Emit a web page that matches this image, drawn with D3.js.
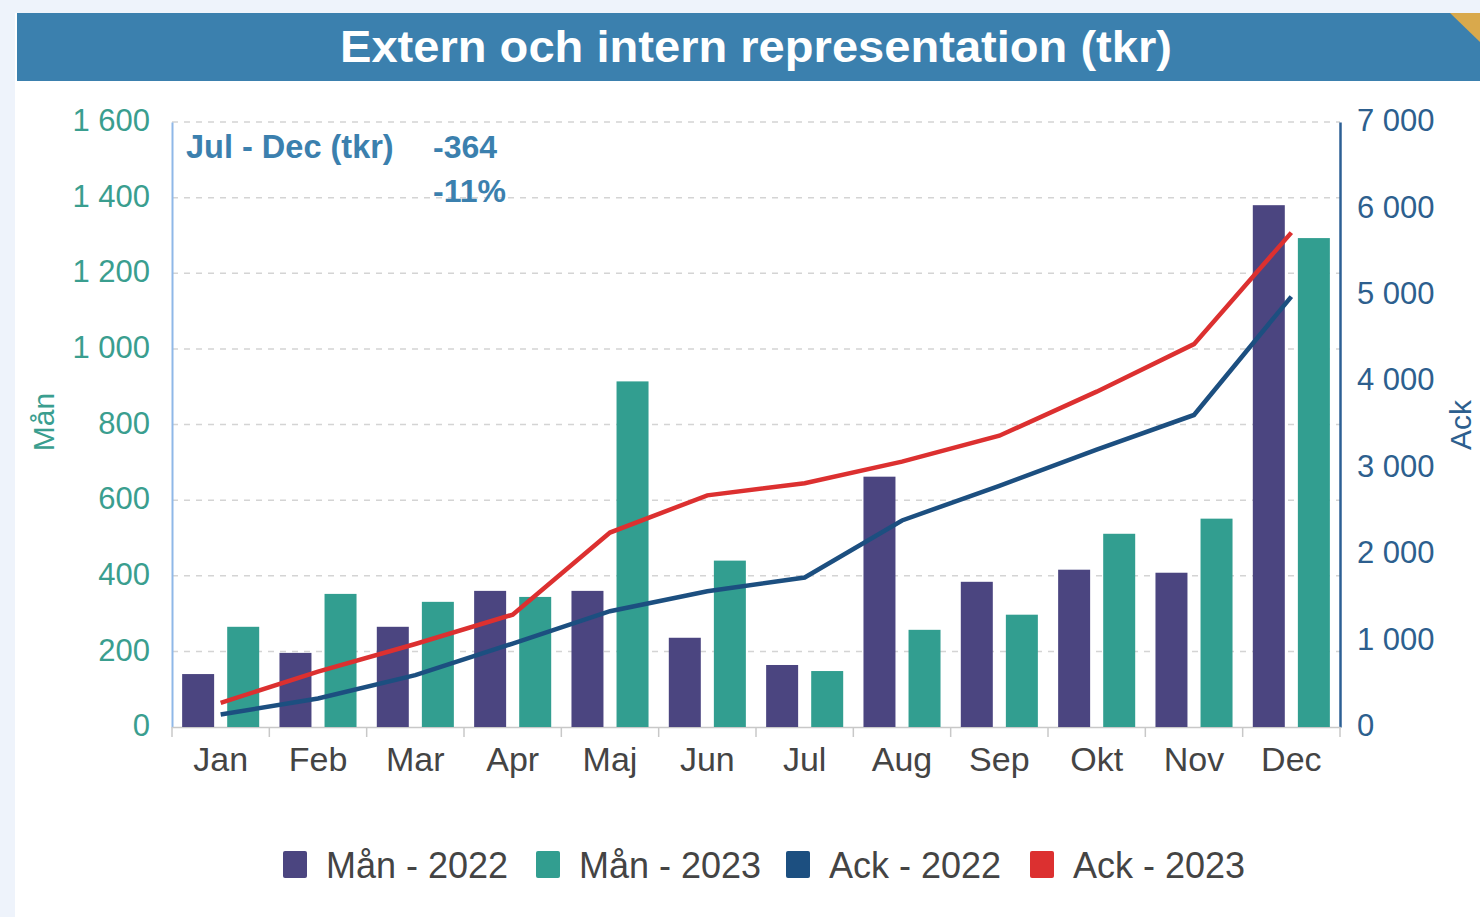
<!DOCTYPE html>
<html><head><meta charset="utf-8">
<script src="https://cdn.jsdelivr.net/npm/d3@7"></script>
<style>
html,body{margin:0;padding:0;background:#eef3fb;}
svg{display:block;font-family:"Liberation Sans",Arial,sans-serif;}
</style></head>
<body>
<svg id="c" width="1480" height="917"></svg>
<script>
const months = ["Jan","Feb","Mar","Apr","Maj","Jun","Jul","Aug","Sep","Okt","Nov","Dec"];
const man2022 = [140,196,265,360,360,236,164,662,384,416,408,1380];
const man2023 = [265,352,331,344,914,440,148,257,297,511,551,1293];
const ack2022 = [145,330,600,965,1340,1570,1730,2390,2790,3210,3610,4980];
const ack2023 = [280,640,960,1300,2250,2680,2820,3070,3370,3880,4430,5720];
const leftTicks = [0,200,400,600,800,1000,1200,1400,1600];
const rightTicks = [0,1000,2000,3000,4000,5000,6000,7000];
const legendItems = ["Mån - 2022","Mån - 2023","Ack - 2022","Ack - 2023"];
const title = "Extern och intern representation (tkr)";
const noteLabel = "Jul - Dec (tkr)";
const noteValues = ["-364","-11%"];

const colors = {m22:"#4b4580", m23:"#329e90", a22:"#1c4f80", a23:"#dc3030"};
const legendColors = [colors.m22, colors.m23, colors.a22, colors.a23];

const svg = d3.select("#c");
const fmt = v => d3.format(",")(v).replace(/,/g," ");

// panel
svg.append("rect").attr("x",15).attr("y",13).attr("width",1465).attr("height",904).attr("fill","#ffffff");
svg.append("rect").attr("x",17).attr("y",13).attr("width",1463).attr("height",68).attr("fill","#3b80ae");
svg.append("path").attr("d","M1450,13 L1480,13 L1480,42 Z").attr("fill","#d9a94c");
svg.append("text").attr("x",340).attr("y",62)
  .attr("textLength",832).attr("lengthAdjust","spacingAndGlyphs")
  .attr("fill","#ffffff").attr("font-weight","bold").attr("font-size",45).text(title);

const x0 = 172, x1 = 1340, yTop = 122, yBot = 727;
const x = d3.scaleBand().domain(months).range([x0,x1]).padding(0);
const xi = d3.scaleBand().domain([0,1]).range([0,x.bandwidth()]).paddingInner(0.29).paddingOuter(0.225);
const yL = d3.scaleLinear().domain([0,1600]).range([yBot,yTop]);
const yR = d3.scaleLinear().domain([0,7000]).range([yBot,yTop]);

// grid
svg.append("g").selectAll("line").data(leftTicks.filter(d=>d>0)).join("line")
  .attr("x1",x0).attr("x2",x1).attr("y1",d=>yL(d)).attr("y2",d=>yL(d))
  .attr("stroke","#d4d4d4").attr("stroke-width",1.5).attr("stroke-dasharray","6,6");

// left axis
const gL = svg.append("g").attr("transform",`translate(${x0},0)`)
  .call(d3.axisLeft(yL).tickValues(leftTicks).tickFormat(fmt).tickSize(0).tickPadding(22));
gL.select(".domain").attr("stroke","#8fb8e8").attr("stroke-width",2);
gL.selectAll("text").attr("fill","#3a9e8f").attr("font-size",31).attr("dy","0.28em").attr("font-family","Liberation Sans, Arial, sans-serif");

// right axis
const gR = svg.append("g").attr("transform",`translate(${x1},0)`)
  .call(d3.axisRight(yR).tickValues(rightTicks).tickFormat(fmt).tickSize(0).tickPadding(17));
gR.select(".domain").attr("stroke","#2c5f94").attr("stroke-width",2.5);
gR.selectAll("text").attr("fill","#2d5f8e").attr("font-size",31).attr("dy","0.28em").attr("font-family","Liberation Sans, Arial, sans-serif");

// bottom axis
const gB = svg.append("g").attr("transform",`translate(0,${yBot})`)
  .call(d3.axisBottom(x).tickSize(0).tickPadding(20));
gB.select(".domain").attr("stroke","#c8c8c8").attr("stroke-width",1.5);
gB.selectAll("text").attr("fill","#444").attr("font-size",34).attr("font-family","Liberation Sans, Arial, sans-serif");
svg.append("g").selectAll("line").data(months.concat(["__end"])).join("line")
  .attr("x1",(d,i)=>x0+i*x.step()).attr("x2",(d,i)=>x0+i*x.step())
  .attr("y1",yBot).attr("y2",yBot+10).attr("stroke","#c8c8c8").attr("stroke-width",1.5);

// axis titles
svg.append("text").attr("transform","translate(54,422) rotate(-90)").attr("text-anchor","middle")
  .attr("fill","#3a9e8f").attr("font-size",30).text("Mån");
svg.append("text").attr("transform","translate(1471,425) rotate(-90)").attr("text-anchor","middle")
  .attr("fill","#2d5f8e").attr("font-size",30).text("Ack");

// bars
const series = [man2022, man2023];
const barColors = [colors.m22, colors.m23];
series.forEach((vals,si)=>{
  svg.append("g").selectAll("rect").data(vals).join("rect")
    .attr("x",(d,i)=>x(months[i])+xi(si)).attr("width",xi.bandwidth())
    .attr("y",d=>yL(d)).attr("height",d=>yBot-yL(d)).attr("fill",barColors[si]);
});

// lines
const line = d3.line().x((d,i)=>x(months[i])+x.bandwidth()/2).y(d=>yR(d));
svg.append("path").datum(ack2022).attr("d",line).attr("fill","none").attr("stroke",colors.a22).attr("stroke-width",4.5);
svg.append("path").datum(ack2023).attr("d",line).attr("fill","none").attr("stroke",colors.a23).attr("stroke-width",4.5);

// annotation
svg.append("text").attr("x",186).attr("y",158).attr("fill","#3b80ae").attr("font-weight","bold").attr("font-size",32.5).text(noteLabel);
svg.append("text").attr("x",433).attr("y",158).attr("fill","#3b80ae").attr("font-weight","bold").attr("font-size",32).text(noteValues[0]);
svg.append("text").attr("x",433).attr("y",202).attr("fill","#3b80ae").attr("font-weight","bold").attr("font-size",32).text(noteValues[1]);

// legend
const legendX = [283,536,786,1030];
const lg = svg.append("g").selectAll("g").data(legendItems).join("g")
  .attr("transform",(d,i)=>`translate(${legendX[i]},851)`);
lg.append("rect").attr("width",24).attr("height",27).attr("rx",2).attr("fill",(d,i)=>legendColors[i]);
lg.append("text").attr("x",43).attr("y",27).attr("fill","#444").attr("font-size",36).text(d=>d);
</script>
</body></html>
